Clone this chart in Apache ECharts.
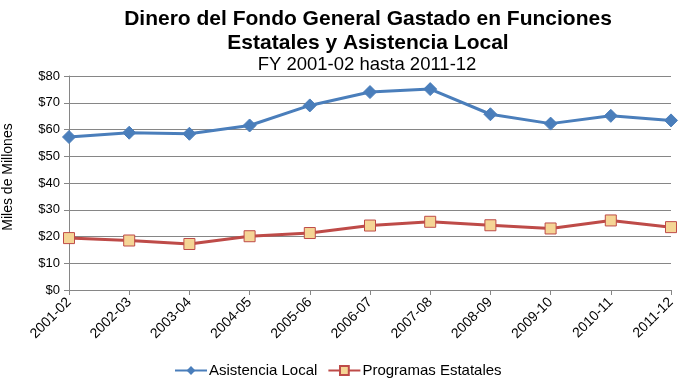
<!DOCTYPE html>
<html><head><meta charset="utf-8">
<script src="https://cdn.jsdelivr.net/npm/echarts@6/dist/echarts.min.js"></script>
<style>html,body{margin:0;padding:0;background:#fff}#c{width:683px;height:387px}</style>
</head><body><div id="c"></div>
<script>
const categories = ["2001-02","2002-03","2003-04","2004-05","2005-06","2006-07","2007-08","2008-09","2009-10","2010-11","2011-12"];
const asistenciaLocal = [57.2, 58.8, 58.4, 61.5, 69.0, 74.0, 75.1, 65.7, 62.2, 65.1, 63.4];
const programasEstatales = [19.4, 18.5, 17.2, 20.1, 21.3, 24.1, 25.5, 24.2, 23.0, 26.0, 23.5];
const yTicks = [0, 10, 20, 30, 40, 50, 60, 70, 80];

const chart = echarts.init(document.getElementById('c'), null, {renderer: 'canvas'});
const ff = '"Liberation Sans", Arial, sans-serif';
chart.setOption({
  animation: false,
  backgroundColor: '#fff',
  textStyle: {fontFamily: ff},
  title: [
    {text: 'Dinero del Fondo General Gastado en Funciones\nEstatales y Asistencia Local', left: 363, top: 2, textAlign: 'center',
     textStyle: {fontFamily: ff, fontSize: 21, fontWeight: 'bold', color: '#000', lineHeight: 24}},
    {text: 'FY 2001-02 hasta 2011-12', left: 362, top: 50, textAlign: 'center',
     textStyle: {fontFamily: ff, fontSize: 18.5, fontWeight: 'normal', color: '#000'}}
  ],
  grid: {left: 69, right: 12, top: 76, bottom: 97, containLabel: false, outerBoundsMode: 'none'},
  legend: {
    bottom: 4, left: 169, itemWidth: 32, itemHeight: 11, itemGap: 10,
    textStyle: {fontFamily: ff, fontSize: 15, color: '#000', padding: [0, 0, 0, -3]},
    data: ['Asistencia Local', 'Programas Estatales']
  },
  xAxis: {
    type: 'category', data: categories, boundaryGap: false,
    axisLine: {lineStyle: {color: '#868686'}},
    axisTick: {show: true, alignWithLabel: true, lineStyle: {color: '#868686'}},
    axisLabel: {rotate: 45, fontFamily: ff, fontSize: 14, color: '#000', margin: 10},
    splitLine: {show: false}
  },
  yAxis: {
    type: 'value', min: yTicks[0], max: yTicks[yTicks.length - 1], interval: 10,
    name: 'Miles de Millones', nameLocation: 'middle', nameGap: 54, nameRotate: 90,
    nameTextStyle: {fontFamily: ff, fontSize: 14, color: '#000', padding: [0, 0, 0, 12]},
    axisLine: {show: true, lineStyle: {color: '#868686'}},
    axisTick: {show: true, length: 5, lineStyle: {color: '#868686'}},
    axisLabel: {formatter: v => '$' + v, fontFamily: ff, fontSize: 13, color: '#000', margin: 9},
    splitLine: {lineStyle: {color: '#868686', width: 1}}
  },
  series: [
    {name: 'Asistencia Local', type: 'line', data: asistenciaLocal,
     symbol: 'diamond', symbolSize: 13,
     lineStyle: {color: '#4A7EBB', width: 3},
     itemStyle: {color: '#4A7EBB', borderColor: '#4A7EBB'}},
    {name: 'Programas Estatales', type: 'line', data: programasEstatales,
     symbol: 'rect', symbolSize: 11,
     lineStyle: {color: '#BE4B48', width: 3},
     itemStyle: {color: '#F5D595', borderColor: '#BE4B48', borderWidth: 1}}
  ]
});
</script></body></html>
